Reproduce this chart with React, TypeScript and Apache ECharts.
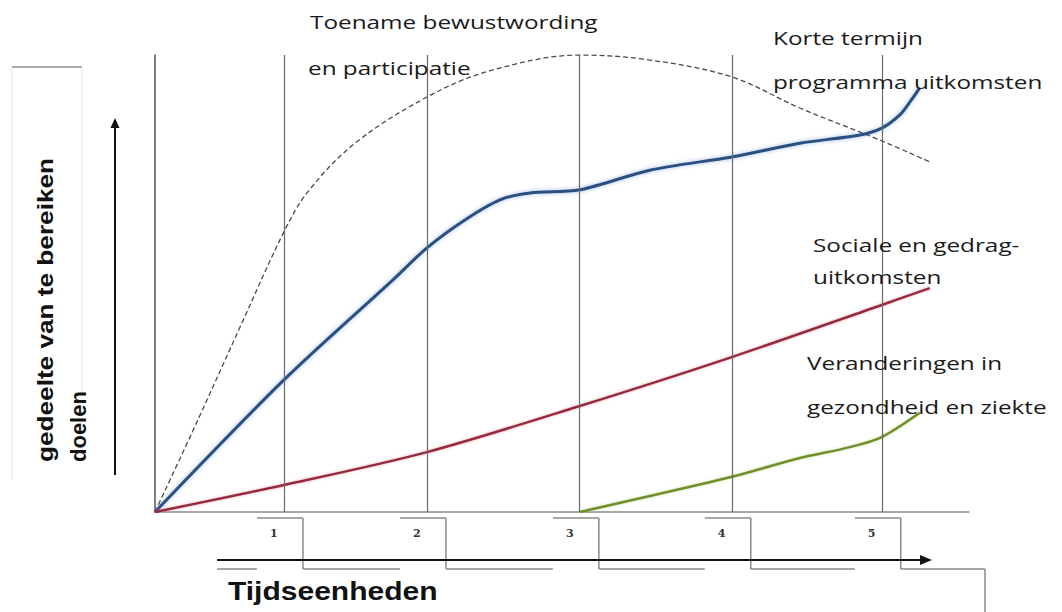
import React, { useEffect, useRef } from "react";
import * as echarts from "echarts";

// Time positions of the vertical guide lines and their labels
const tickValues = [0.887, 1.871, 2.923, 3.968, 5.0];
const tickLabels = ["1", "2", "3", "4", "5"];

// Toename bewustwording en participatie (dashed)
const awarenessX = [0, 0.3, 0.6, 0.887, 1.05, 1.376, 1.871, 2.3, 2.923, 3.404, 3.968, 4.436, 4.986, 5.33];
const awarenessY = [0, 20.5, 41.5, 61.3, 70.0, 80.7, 90.8, 96.5, 100, 98.9, 95.2, 88.4, 81.4, 76.6];

// Korte termijn programma uitkomsten (blue)
const shortTermX = [0, 0.887, 1.637, 1.871, 2.132, 2.373, 2.579, 2.923, 3.404, 3.968, 4.436, 4.849, 5.0, 5.124, 5.2, 5.261];
const shortTermY = [0, 28.9, 50.8, 57.8, 63.9, 68.3, 69.8, 70.5, 74.8, 77.7, 80.7, 82.5, 84.0, 86.9, 90.0, 92.8];

// Sociale en gedrag-uitkomsten (red)
const socialX = [0, 0.887, 1.871, 2.923, 3.968, 5.0, 5.33];
const socialY = [0, 5.9, 13.1, 23.2, 33.9, 45.3, 49.0];

// Veranderingen in gezondheid en ziekte (green)
const healthX = [2.923, 3.968, 4.436, 4.78, 5.0, 5.261];
const healthY = [0, 7.7, 11.8, 14.2, 16.4, 21.7];

const zip = (xs: number[], ys: number[]) => xs.map((x, i) => [x, ys[i]]);

const annFont = '"Open Sans", sans-serif';
const boldFont = '"Liberation Sans", Arial, sans-serif';

export default function App() {
  const ref = useRef<HTMLDivElement>(null);

  useEffect(() => {
    if (!ref.current) return;
    const chart = echarts.init(ref.current, undefined, { renderer: "svg" });

    chart.setOption({
      animation: false,
      backgroundColor: "#ffffff",
      grid: { left: 155, right: 93, top: 55, bottom: 100 },
      xAxis: {
        type: "value",
        min: 0,
        max: 5.6,
        axisLine: { show: true, lineStyle: { color: "#8a8a8a", width: 1.5 } },
        axisTick: { show: false },
        axisLabel: { show: false },
        splitLine: { show: false },
      },
      yAxis: {
        type: "value",
        min: 0,
        max: 100,
        axisLine: { show: true, lineStyle: { color: "#555", width: 1.5 } },
        axisTick: { show: false },
        axisLabel: { show: false },
        splitLine: { show: false },
      },
      series: [
        {
          type: "line",
          name: "guides",
          data: [],
          markLine: {
            silent: true,
            symbol: ["none", "none"],
            label: { show: false },
            lineStyle: { color: "#6a6a6a", width: 1.2, type: "solid" },
            data: tickValues.map((v) => ({ xAxis: v })),
          },
        },
        {
          type: "line",
          name: "Toename bewustwording en participatie",
          data: zip(awarenessX, awarenessY),
          smooth: 0.35,
          showSymbol: false,
          lineStyle: { color: "#4a4a4a", width: 1.3, type: [5, 3] },
          z: 3,
        },
        {
          type: "line",
          name: "Korte termijn programma uitkomsten",
          data: zip(shortTermX, shortTermY),
          smooth: 0.3,
          showSymbol: false,
          lineStyle: {
            color: "#2c4f80",
            width: 3,
            shadowColor: "rgba(90,140,210,0.6)",
            shadowBlur: 4,
          },
          z: 4,
        },
        {
          type: "line",
          name: "Sociale en gedrag-uitkomsten",
          data: zip(socialX, socialY),
          smooth: 0.3,
          showSymbol: false,
          lineStyle: {
            color: "#962a3c",
            width: 2.5,
            shadowColor: "rgba(230,120,140,0.6)",
            shadowBlur: 3,
          },
          z: 4,
        },
        {
          type: "line",
          name: "Veranderingen in gezondheid en ziekte",
          data: zip(healthX, healthY),
          smooth: 0.3,
          showSymbol: false,
          lineStyle: {
            color: "#6f8f2a",
            width: 2.5,
            shadowColor: "rgba(170,210,110,0.6)",
            shadowBlur: 3,
          },
          z: 4,
        },
      ],
    });

    // Build the timeline boxes from the axis scale
    const gray = { stroke: "#8a8a8a", lineWidth: 1.5 };
    const elements: any[] = [];
    const centers = tickValues.map((v) => (chart.convertToPixel({ xAxisIndex: 0 }, v) as number) - 4);
    const yTop = 518;
    const yLow = 569;
    let prevRight = 217;
    centers.forEach((c, i) => {
      const l = c - 23;
      const r = c + 23;
      elements.push({ type: "line", shape: { x1: prevRight, y1: yLow, x2: l, y2: yLow }, style: gray });
      elements.push({ type: "line", shape: { x1: l, y1: yTop, x2: r, y2: yTop }, style: gray });
      elements.push({ type: "line", shape: { x1: r, y1: yTop, x2: r, y2: yLow }, style: gray });
      elements.push({
        type: "text",
        x: l + 13,
        y: 533,
        style: { text: tickLabels[i], font: 'bold 11px "DejaVu Serif", serif', fill: "#333", align: "left", verticalAlign: "middle" },
      });
      prevRight = r;
    });
    elements.push({ type: "line", shape: { x1: prevRight, y1: yLow, x2: 985, y2: yLow }, style: gray });
    elements.push({ type: "line", shape: { x1: 985, y1: yLow, x2: 985, y2: 612 }, style: gray });
    // time arrow
    elements.push({ type: "line", shape: { x1: 217, y1: 560, x2: 922, y2: 560 }, style: { stroke: "#111", lineWidth: 2 } });
    elements.push({ type: "polygon", shape: { points: [[920, 555], [932, 560], [920, 565]] }, style: { fill: "#111" } });
    elements.push({
      type: "text",
      x: 228,
      y: 591,
      scaleX: 1.2,
      style: { text: "Tijdseenheden", font: `bold 25px ${boldFont}`, fill: "#111", align: "left", verticalAlign: "middle" },
    });

    // Y side: bracket, arrow and rotated label
    elements.push({ type: "line", shape: { x1: 12, y1: 67, x2: 82, y2: 67 }, style: { stroke: "#555", lineWidth: 1 } });
    elements.push({ type: "line", shape: { x1: 12, y1: 67, x2: 12, y2: 480 }, style: { stroke: "#e2e2e2", lineWidth: 1 } });
    elements.push({ type: "line", shape: { x1: 82, y1: 67, x2: 82, y2: 395 }, style: { stroke: "#e8e8e8", lineWidth: 1 } });
    elements.push({ type: "line", shape: { x1: 115, y1: 475, x2: 115, y2: 126 }, style: { stroke: "#111", lineWidth: 2 } });
    elements.push({ type: "polygon", shape: { points: [[110.5, 128], [115, 118], [119.5, 128]] }, style: { fill: "#111" } });
    elements.push({
      type: "text",
      x: 45,
      y: 462,
      rotation: Math.PI / 2,
      scaleX: 1.19,
      style: { text: "gedeelte van te bereiken", font: `bold 22px ${boldFont}`, fill: "#111", align: "left", verticalAlign: "middle" },
    });
    elements.push({
      type: "text",
      x: 78,
      y: 462,
      rotation: Math.PI / 2,
      style: { text: "doelen", font: `bold 22px ${boldFont}`, fill: "#111", align: "left", verticalAlign: "middle" },
    });

    // Annotations
    const ann = (text: string, x: number, y: number) => ({
      type: "text",
      x,
      y,
      scaleX: 1.28,
      z: 10,
      style: { text, font: `19px ${annFont}`, fill: "#1a1a1a", align: "left", verticalAlign: "middle" },
    });
    elements.push(ann("Toename bewustwording", 310, 22));
    elements.push(ann("en participatie", 308, 68));
    elements.push(ann("Korte termijn", 773, 38));
    elements.push(ann("programma uitkomsten", 773, 82));
    elements.push(ann("Sociale en gedrag-", 813, 245));
    elements.push(ann("uitkomsten", 813, 277));
    elements.push(ann("Veranderingen in", 807, 363));
    elements.push(ann("gezondheid en ziekte", 807, 407));

    chart.setOption({ graphic: { elements } });

    return () => chart.dispose();
  }, []);

  return (
    <div
      ref={ref}
      style={{ position: "fixed", left: 0, top: 0, width: 1062, height: 612, background: "#fff" }}
    />
  );
}
